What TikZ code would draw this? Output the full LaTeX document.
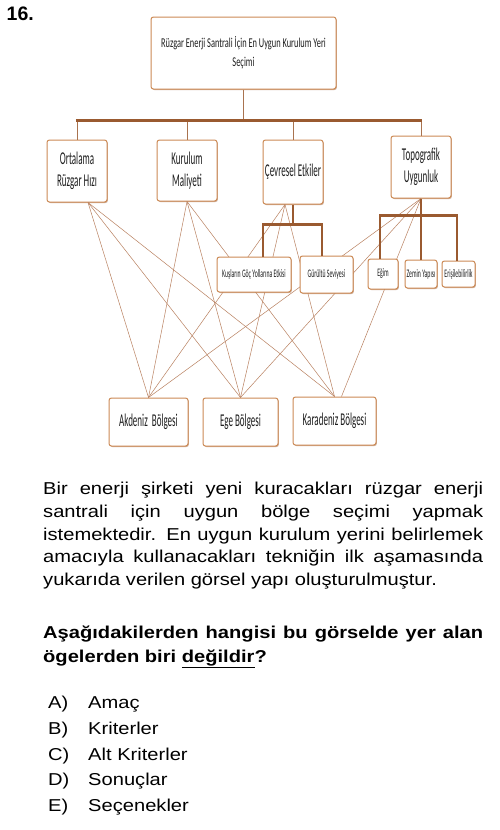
\documentclass[tikz,border=0pt]{standalone}
\usepackage{fontspec}
\setmainfont{Liberation Sans}
\newfontfamily\dgtop[FakeStretch=0.62]{Carlito}
\newfontfamily\dg[FakeStretch=0.5]{Carlito}
\newfontfamily\qfont[FakeStretch=1.17]{Liberation Sans}
\usetikzlibrary{shadows,calc}
\definecolor{boxc}{HTML}{CC8A55}
\definecolor{treec}{HTML}{9A5A30}
\definecolor{linec}{HTML}{B98160}
\definecolor{txtc}{HTML}{1E1E1E}
\tikzset{
  box/.style={draw=boxc, line width=1pt, fill=white, rounded corners=2.5pt,
    inner sep=0pt, align=center, text=txtc,
    drop shadow={shadow xshift=0.9pt, shadow yshift=-1pt, fill=treec, opacity=0.5}},
  goalfont/.style={font=\dgtop\fontsize{13.5}{19}\selectfont},
  critfont/.style={font=\dg\fontsize{18}{22}\selectfont},
  subfont/.style={font=\dg\fontsize{11.5}{13}\selectfont},
  altfont/.style={font=\dg\fontsize{18}{22}\selectfont},
  link/.style={draw=linec, line width=0.5pt},
  trunk/.style={draw=treec!85, line width=0.9pt},
  bar/.style={draw=treec, line width=2.2pt},
  subtrunk/.style={draw=treec, line width=1.3pt},
  qtext/.style={anchor=base west, inner sep=0pt, font=\qfont\fontsize{17.2}{22.8}\selectfont},
  qbold/.style={anchor=base west, inner sep=0pt, font=\qfont\bfseries\fontsize{17.2}{22.8}\selectfont},
}
\begin{document}
\begin{tikzpicture}[x=1pt,y=-1pt]
\path[use as bounding box, fill=white] (0,0) rectangle (500,830);

% question number
\node[anchor=base west, inner sep=0pt, font=\bfseries\fontsize{19.5}{22}\selectfont] (num) at (6.5,20) {16.};

% goal, criteria, alternatives
\node[box, goalfont, minimum width=185pt, minimum height=72pt] (goal) at (243.5,53)
  {Rüzgar Enerji Santrali İçin En Uygun Kurulum Yeri\\Seçimi};
\node[box, critfont, minimum width=60pt, minimum height=62pt] (c1) at (77,171) {Ortalama\\Rüzgar Hızı};
\node[box, critfont, minimum width=60pt, minimum height=61pt] (c2) at (187,170.5) {Kurulum\\Maliyeti};
\node[box, critfont, minimum width=60pt, minimum height=64pt] (c3) at (293,172) {Çevresel Etkiler};
\node[box, critfont, minimum width=60pt, minimum height=62pt] (c4) at (421,167) {Topografik\\Uygunluk};

\node[box, altfont, minimum width=79pt, minimum height=48pt] (a1) at (148.5,422) {Akdeniz~\ Bölgesi};
\node[box, altfont, minimum width=75pt, minimum height=48pt] (a2) at (240.5,422) {Ege Bölgesi};
\node[box, altfont, minimum width=83pt, minimum height=48pt] (a3) at (334.5,421) {Karadeniz Bölgesi};

% criteria -> alternatives
\coordinate (c1o) at ($(c1.south)+(11,0)$);
\coordinate (c3o) at ($(c3.south)+(-8,0)$);
\coordinate (a3t) at ($(a3.north)+(7,0)$);
\foreach \s in {c1o,c2.south,c3o,c4.south}{
  \draw[link] (\s) -- (a1.north);
  \draw[link] (\s) -- (a2.north);
}
\foreach \s in {c1o,c2.south,c3o}{
  \draw[link] (\s) -- (a3.north);
}
\draw[link] (c4.south) -- (a3t);

% sub-criteria
\node[box, subfont, minimum width=74pt, minimum height=35pt] (s1) at (254,274.5) {Kuşların Göç Yollarına Etkisi};
\node[box, subfont, minimum width=53pt, minimum height=37pt] (s2) at (326.5,274.5) {Gürültü Seviyesi};
\node[box, subfont, minimum width=30pt, minimum height=30pt] (s3) at (383,274) {Eğim};
\node[box, subfont, minimum width=32pt, minimum height=28pt] (s4) at (421,274) {Zemin Yapısı};
\node[box, subfont, minimum width=33pt, minimum height=26pt] (s5) at (458.5,274) {Erişilebilirlik};

% main tree
\coordinate (j0) at ($(goal.south)+(0,31)$);
\draw[trunk] (goal.south) -- (j0);
\foreach \c in {c1,c2,c3,c4}{
  \draw[trunk] (\c.north |- j0) -- (\c.north);
}
\draw[bar] ([xshift=-1.1pt]c1.north |- j0) -- ([xshift=1.1pt]c4.north |- j0);

% Cevresel subtree
\coordinate (j1) at ($(c3.south)+(0,20)$);
\coordinate (d1) at ($(s1.north)+(9,0)$);
\coordinate (d2) at ($(s2.north)+(-4.5,0)$);
\draw[subtrunk] (c3.south) -- (j1);
\draw[subtrunk] (d1 |- j1) -- (d1);
\draw[subtrunk] (d2 |- j1) -- (d2);
\draw[bar] ([xshift=-0.65pt]d1 |- j1) -- ([xshift=0.65pt]d2 |- j1);

% Topografik subtree
\coordinate (j2) at ($(c4.south)+(0,17)$);
\coordinate (e1) at ($(s3.north)+(-3,0)$);
\coordinate (e3) at ($(s5.north)+(-1.5,0)$);
\draw[subtrunk] (c4.south) -- (j2);
\draw[subtrunk] (e1 |- j2) -- (e1);
\draw[subtrunk] (s4.north |- j2) -- (s4.north);
\draw[subtrunk] (e3 |- j2) -- (e3);
\draw[bar] ([xshift=-0.65pt]e1 |- j2) -- ([xshift=0.65pt]e3 |- j2);

% question text
\node[qtext] (l1) at (43,494) {\makebox[440pt][s]{Bir enerji şirketi yeni kuracakları rüzgar enerji}};
\node[qtext] (l2) at (43,517) {\makebox[440pt][s]{santrali için uygun bölge seçimi yapmak}};
\node[qtext] (l3) at (43,540) {\makebox[440pt][s]{istemektedir. En uygun kurulum yerini belirlemek}};
\node[qtext] (l4) at (43,562.5) {\makebox[440pt][s]{amacıyla kullanacakları tekniğin ilk aşamasında}};
\node[qtext] (l5) at (43,585) {yukarıda verilen görsel yapı oluşturulmuştur.};

\node[qbold] (b1) at (43,638) {\makebox[440pt][s]{Aşağıdakilerden hangisi bu görselde yer alan}};
\node[qbold] (b2) at (43,662) {ögelerden biri \underline{değildir}?};

\node[qtext] (oa) at (48,708) {A)};
\node[qtext] (ob) at (48,734) {B)};
\node[qtext] (oc) at (48,760) {C)};
\node[qtext] (od) at (48,785.5) {D)};
\node[qtext] (oe) at (48,811.5) {E)};
\node[qtext] (ta) at (88,708) {Amaç};
\node[qtext] (tb) at (88,734) {Kriterler};
\node[qtext] (tc) at (88,760) {Alt Kriterler};
\node[qtext] (td) at (88,785.5) {Sonuçlar};
\node[qtext] (te) at (88,811.5) {Seçenekler};
\end{tikzpicture}
\end{document}
